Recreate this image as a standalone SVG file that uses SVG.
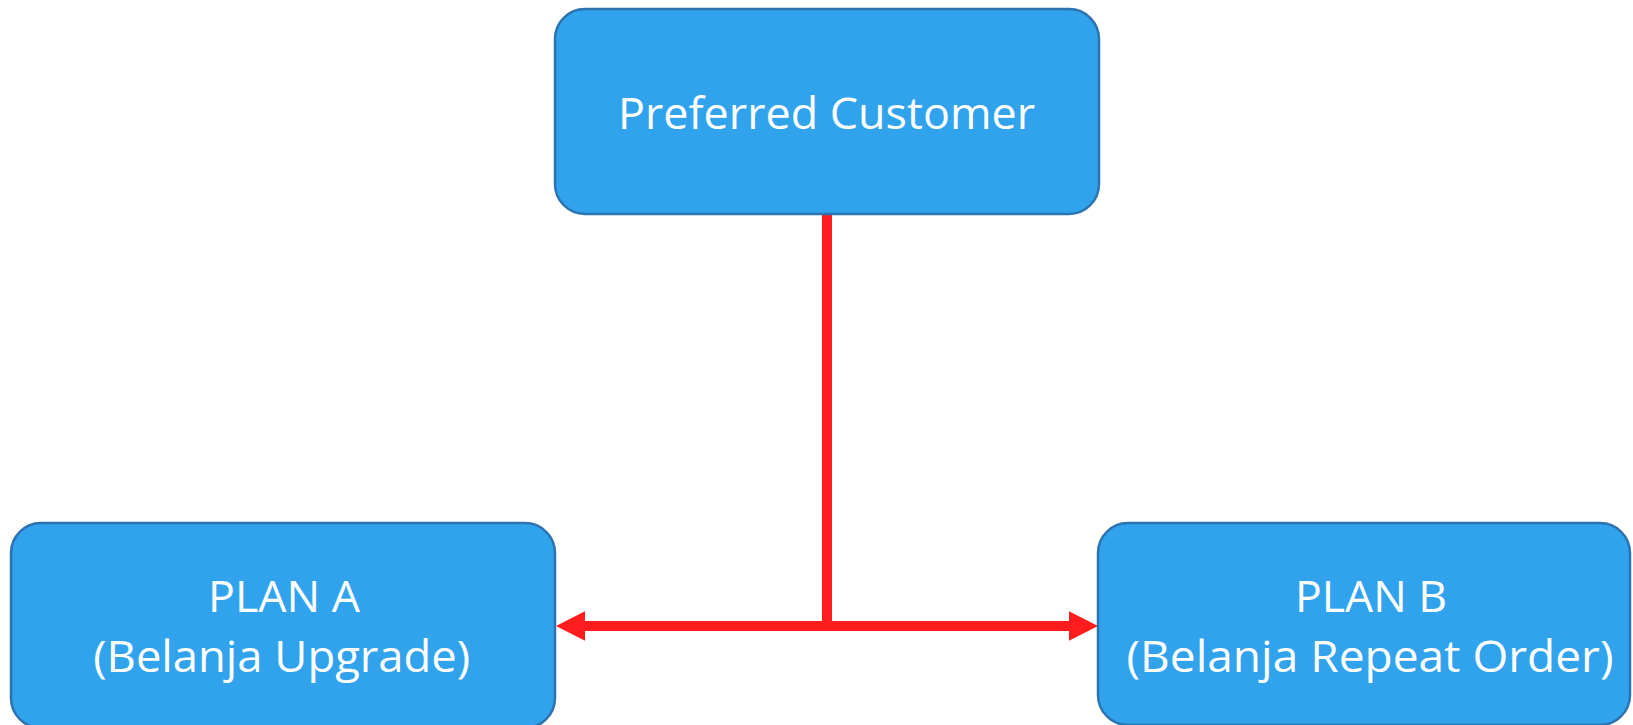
<svg xmlns="http://www.w3.org/2000/svg" width="1633" height="725" viewBox="0 0 1633 725">
  <defs>
    <style>
      .box { fill: #31A3ED; stroke: #2C74B0; stroke-width: 2.5; }
      .lbl { font-family: "Open Sans", "Noto Sans", "Liberation Sans", sans-serif; font-size: 43px; fill: #FFFFFF; text-anchor: middle; }
      .conn { fill: none; stroke: #FF1C1C; stroke-width: 10; }
    </style>
    <marker id="ah" viewBox="0 0 29 29.5" refX="0" refY="14.75" markerUnits="userSpaceOnUse" markerWidth="29" markerHeight="29.5" orient="auto-start-reverse">
      <path d="M0,0 L29,14.75 L0,29.5 Z" fill="#FF1C1C"/>
    </marker>
  </defs>
  <rect width="1633" height="725" fill="#FFFFFF"/>
  <g id="connectors">
    <path class="conn" d="M827,214 V626"/>
    <path class="conn" d="M585,626 H1069" marker-start="url(#ah)" marker-end="url(#ah)"/>
  </g>
  <g id="preferred-customer">
    <rect class="box" x="555" y="9" width="544" height="205" rx="30" ry="30"/>
    <text class="lbl" x="826.5" y="129.3" textLength="417" lengthAdjust="spacingAndGlyphs">Preferred Customer</text>
  </g>
  <g id="plan-a">
    <rect class="box" x="11" y="523" width="544" height="205" rx="30" ry="30"/>
    <text class="lbl" x="284" y="611.7" textLength="152" lengthAdjust="spacingAndGlyphs">PLAN A</text>
    <text class="lbl" x="281.7" y="671.7" textLength="377" lengthAdjust="spacingAndGlyphs">(Belanja Upgrade)</text>
  </g>
  <g id="plan-b">
    <rect class="box" x="1098" y="523" width="532" height="202" rx="30" ry="30"/>
    <text class="lbl" x="1371" y="611.7" textLength="152" lengthAdjust="spacingAndGlyphs">PLAN B</text>
    <text class="lbl" x="1370" y="671.7" textLength="487" lengthAdjust="spacingAndGlyphs">(Belanja Repeat Order)</text>
  </g>
</svg>
